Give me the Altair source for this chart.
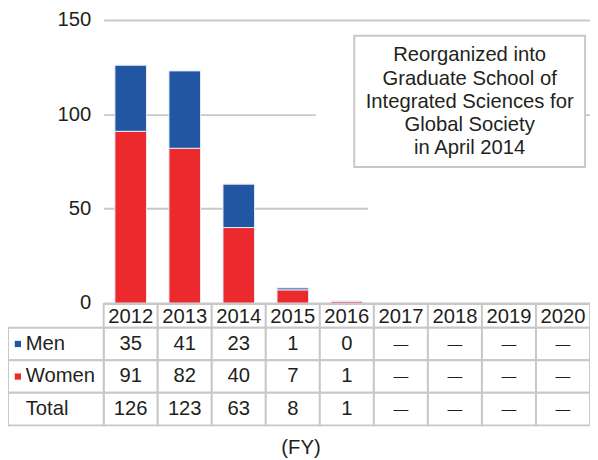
import altair as alt
import pandas as pd

# ---- data ----
years = ["2012", "2013", "2014", "2015", "2016", "2017", "2018", "2019", "2020"]
men = [35, 41, 23, 1, 0, None, None, None, None]
women = [91, 82, 40, 7, 1, None, None, None, None]
total = [126, 123, 63, 8, 1, None, None, None, None]
series = ["Men", "Women"]
series_colors = ["#2157a2", "#ec2a2d"]
y_ticks = [0, 50, 100, 150]
row_names = ["Men", "Women", "Total"]
note_lines = ["Reorganized into", "Graduate School of", "Integrated Sciences for",
              "Global Society", "in April 2014"]
x_title = "(FY)"

FONT = "Liberation Sans"
TXT = "#231f20"
GRID = "#c8c8c8"
FS = 20.5

# ---- tables ----
bar_rows = []
for i, y in enumerate(years):
    if women[i] is not None:
        bar_rows.append({"year": y, "series": "Women", "value": women[i], "ord": 0})
    if men[i] is not None:
        bar_rows.append({"year": y, "series": "Men", "value": men[i], "ord": 1})
bars_df = pd.DataFrame(bar_rows)

def fmt(v):
    return "—" if v is None else str(v)

cell_rows = []
for i, y in enumerate(years):
    cell_rows.append({"year": y, "row": "Men", "label": fmt(men[i])})
    cell_rows.append({"year": y, "row": "Women", "label": fmt(women[i])})
    cell_rows.append({"year": y, "row": "Total", "label": fmt(total[i])})
cells_df = pd.DataFrame(cell_rows)
header_df = pd.DataFrame({"year": years, "label": years})

labels_df = pd.DataFrame({"row": row_names, "label": row_names})
markers_df = pd.DataFrame({"row": series, "series": series})
one = pd.DataFrame({"k": [0]})

xscale = alt.Scale(domain=years, paddingInner=0, paddingOuter=0)
xenc = alt.X("year:N", scale=xscale, axis=None)
rowscale = alt.Scale(domain=row_names, range=[312, 411], paddingInner=0, paddingOuter=0)
yrow = alt.Y("row:N", scale=rowscale, axis=None)
color = alt.Color("series:N", scale=alt.Scale(domain=series, range=series_colors), legend=None)

# ---- plot layers ----
mask1 = alt.Chart(one).mark_rect(fill="white").encode(
    x=alt.value(215), x2=alt.value(254), y=alt.value(92), y2=alt.value(100))
mask2 = alt.Chart(one).mark_rect(fill="white").encode(
    x=alt.value(268), x2=alt.value(493), y=alt.value(188), y2=alt.value(196))

bars = alt.Chart(bars_df).mark_bar(size=32, stroke="#e6ecf7", strokeWidth=1).encode(
    x=xenc,
    y=alt.Y("value:Q", stack="zero",
            scale=alt.Scale(domain=[0, 150], nice=False),
            axis=alt.Axis(values=y_ticks, grid=True, gridColor=GRID, gridWidth=2,
                          domain=False, ticks=False, labelFontSize=FS, labelFont=FONT,
                          labelColor=TXT, labelPadding=13, title=None)),
    color=color,
    order=alt.Order("ord:Q"),
)

box = alt.Chart(one).mark_rect(fill="white", stroke=GRID, strokeWidth=2).encode(
    x=alt.value(254), x2=alt.value(488), y=alt.value(16), y2=alt.value(149))
note = alt.Chart(one).mark_text(
    text=note_lines, align="center", baseline="middle", lineHeight=23.5,
    fontSize=FS, font=FONT, color=TXT).encode(x=alt.value(371), y=alt.value(36))

# ---- table layers ----
header_rects = alt.Chart(header_df).mark_rect(fill="white", stroke=GRID, strokeWidth=2).encode(
    x=xenc, y=alt.value(288), y2=alt.value(312))
header_text = alt.Chart(header_df).mark_text(fontSize=FS, font=FONT, color=TXT,
                                             baseline="middle").encode(
    x=xenc, y=alt.value(301), text="label:N")
cell_rects = alt.Chart(cells_df).mark_rect(fill="white", stroke=GRID, strokeWidth=2).encode(
    x=xenc, y=yrow)
label_rects = alt.Chart(labels_df).mark_rect(fill="white", stroke=GRID, strokeWidth=2).encode(
    x=alt.value(-97), x2=alt.value(0), y=yrow)
cell_text = alt.Chart(cells_df).mark_text(font=FONT, color=TXT,
                                          baseline="middle").encode(
    x=xenc, y=yrow, text="label:N",
    size=alt.condition("datum.label == '—'", alt.value(15), alt.value(FS)))
label_text = alt.Chart(labels_df).mark_text(fontSize=FS, font=FONT, color=TXT,
                                            align="left", baseline="middle").encode(
    x=alt.value(-79), y=yrow, text="label:N")
markers = alt.Chart(markers_df).mark_square(size=40, opacity=1).encode(
    x=alt.value(-87), y=yrow, color=color)
xtitle = alt.Chart(one).mark_text(text=x_title, fontSize=FS, font=FONT, color=TXT,
                                  align="center", baseline="middle").encode(
    x=alt.value(200), y=alt.value(434))

chart = alt.layer(
    mask1, mask2, bars, box, note,
    header_rects, header_text,
    cell_rects, label_rects, cell_text, label_text, markers, xtitle
).resolve_scale(y="independent").properties(
    width=493, height=287,
    autosize=alt.AutoSizeParams(type="none"),
    padding={"left": 97, "top": 9, "right": 0, "bottom": 156},
).configure_view(stroke=None)

chart.save("out.html", embed_options={"renderer": "svg", "actions": False})
